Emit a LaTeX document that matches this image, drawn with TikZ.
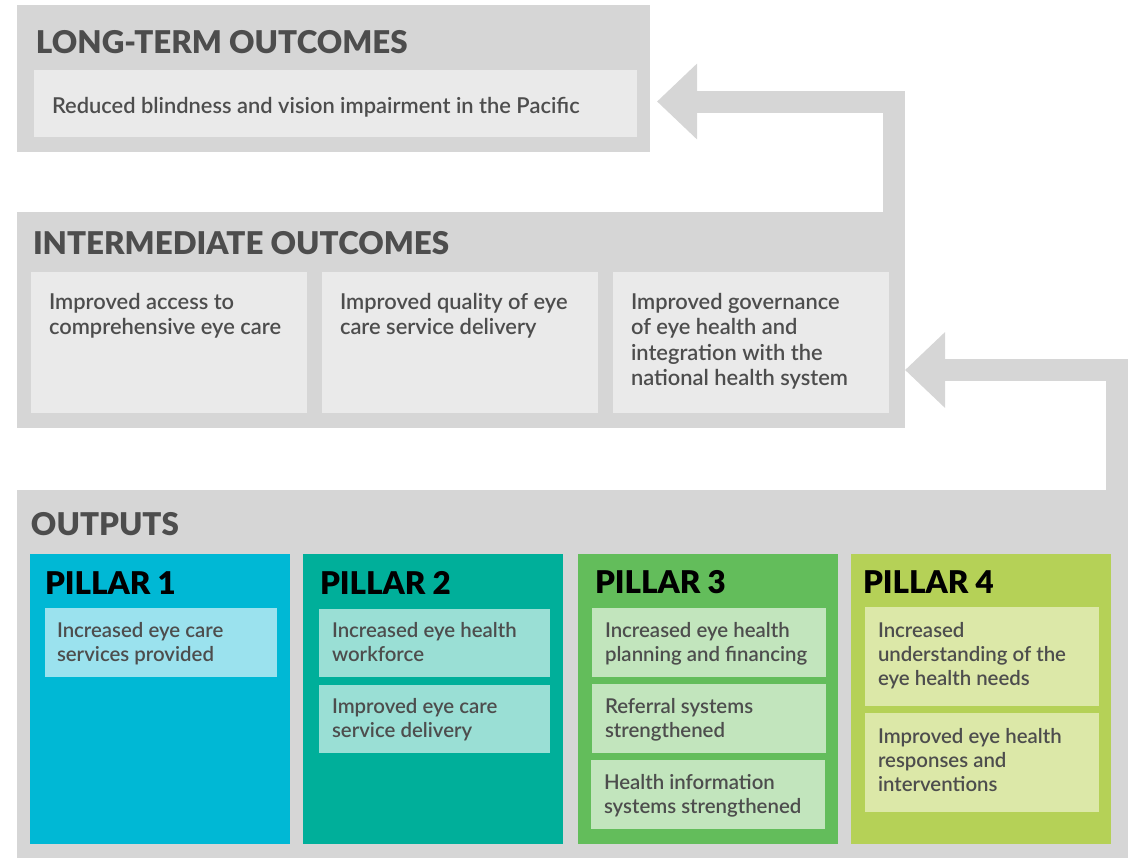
\documentclass[tikz,border=0pt]{standalone}
\usepackage{fontspec}
\setmainfont{Lato}
\newfontfamily\headfont{Lato Black}
\newfontfamily\bodyfont{Lato Semibold}
\usetikzlibrary{arrows.meta}

\definecolor{boxgrey}{HTML}{D6D6D6}
\definecolor{innergrey}{HTML}{EAEAEA}
\definecolor{txtgrey}{HTML}{4D4D4D}
\definecolor{pilA}{HTML}{00B8D5}
\definecolor{pilAin}{HTML}{9BE2EE}
\definecolor{pilB}{HTML}{00AF9A}
\definecolor{pilBin}{HTML}{9ADFD5}
\definecolor{pilC}{HTML}{63BD5B}
\definecolor{pilCin}{HTML}{C2E5BD}
\definecolor{pilD}{HTML}{B5D157}
\definecolor{pilDin}{HTML}{DCE8A8}

\tikzset{
  sz/.style 2 args={minimum width=#1*0.75pt, minimum height=#2*0.75pt},
  outer/.style={fill=boxgrey},
  inbox/.style={fill=innergrey},
  head/.style={anchor=base west, text=txtgrey, font=\headfont\fontsize{23.5}{28}\selectfont},
  pilhead/.style={anchor=base west, text=black, font=\headfont\fontsize{23.5}{28}\selectfont},
  body/.style={anchor=north west, align=left, text=txtgrey, font=\bodyfont\fontsize{15.3}{18}\selectfont},
  bigbody/.style={body, font=\bodyfont\fontsize{16.4}{19.2}\selectfont},
  bigarrow/.style={draw=boxgrey, line width=16.5pt, -{Triangle[length=30pt, width=55pt]}}
}

\begin{document}
\begin{tikzpicture}[x=0.75pt, y=-0.75pt, every node/.style={inner sep=0pt, outer sep=0pt, anchor=north west}]
\useasboundingbox (0,0) rectangle (1139,860);

% long-term outcomes
\node (lt)      [outer, sz={633}{147}]  at (17,5)   {};
\node (ltTitle) [head]                  at (36,53)  {LONG-TERM OUTCOMES};
\node (ltin)    [inbox, sz={603}{67}]   at (34,70)  {};
\node (ltText)  [bigbody, anchor=base west] at ([shift={(18,43)}]ltin.north west) {Reduced blindness and vision impairment in the Pacific};

% intermediate outcomes
\node (inter)      [outer, sz={888}{216}] at (17,212)  {};
\node (interTitle) [head]                 at (33,254)  {INTERMEDIATE OUTCOMES};
\node (intA)       [inbox, sz={276}{141}] at (31,272)  {};
\node (intB)       [inbox, sz={276}{141}] at (322,272) {};
\node (intC)       [inbox, sz={276}{141}] at (613,272) {};
\node (intAText) [bigbody] at ([shift={(18,21)}]intA.north west) {Improved access to\\comprehensive eye care};
\node (intBText) [bigbody] at ([shift={(18,21)}]intB.north west) {Improved quality of eye\\care service delivery};
\node (intCText) [bigbody] at ([shift={(18,21)}]intC.north west) {Improved governance\\of eye health and\\integration with the\\national health system};

% outputs
\node (out)      [outer, sz={1111}{368}] at (17,490) {};
\node (outTitle) [head]                  at (31,535) {OUTPUTS};

\node (pil1) [fill=pilA, sz={260}{290}] at (30,554)  {};
\node (pil2) [fill=pilB, sz={260}{290}] at (303,554) {};
\node (pil3) [fill=pilC, sz={260}{290}] at (578,554) {};
\node (pil4) [fill=pilD, sz={260}{290}] at (851,554) {};

\node (pil1Title) [pilhead] at ([shift={(15,40)}]pil1.north west) {PILLAR 1};
\node (pil2Title) [pilhead] at ([shift={(17,40)}]pil2.north west) {PILLAR 2};
\node (pil3Title) [pilhead] at ([shift={(17,39)}]pil3.north west) {PILLAR 3};
\node (pil4Title) [pilhead] at ([shift={(12,39)}]pil4.north west) {PILLAR 4};

\node (a1) [fill=pilAin, sz={232}{69}] at (45,608)  {};
\node (b1) [fill=pilBin, sz={231}{68}] at (319,609) {};
\node (b2) [fill=pilBin, sz={231}{68}] at (319,685) {};
\node (c1) [fill=pilCin, sz={234}{69}] at (592,608) {};
\node (c2) [fill=pilCin, sz={234}{69}] at (592,684) {};
\node (c3) [fill=pilCin, sz={234}{69}] at (591,760) {};
\node (d1) [fill=pilDin, sz={234}{99}] at (865,607) {};
\node (d2) [fill=pilDin, sz={234}{99}] at (865,713) {};

\node (a1Text) [body] at ([shift={(12,14)}]a1.north west) {Increased eye care\\services provided};
\node (b1Text) [body] at ([shift={(13,13)}]b1.north west) {Increased eye health\\workforce};
\node (b2Text) [body] at ([shift={(13,13)}]b2.north west) {Improved eye care\\service delivery};
\node (c1Text) [body] at ([shift={(13,14)}]c1.north west) {Increased eye health\\planning and financing};
\node (c2Text) [body] at ([shift={(13,14)}]c2.north west) {Referral systems\\strengthened};
\node (c3Text) [body] at ([shift={(13,14)}]c3.north west) {Health information\\systems strengthened};
\node (d1Text) [body] at ([shift={(13,15)}]d1.north west) {Increased\\understanding of the\\eye health needs};
\node (d2Text) [body] at ([shift={(13,15)}]d2.north west) {Improved eye health\\responses and\\interventions};

% connectors
\draw[bigarrow] ([xshift=-8.25pt]inter.north east) |- ([shift={(7,23)}]lt.east);
\draw[bigarrow] ([xshift=-7.9pt]out.north east) |- ([yshift=-37.5pt]inter.east);

\end{tikzpicture}
\end{document}
